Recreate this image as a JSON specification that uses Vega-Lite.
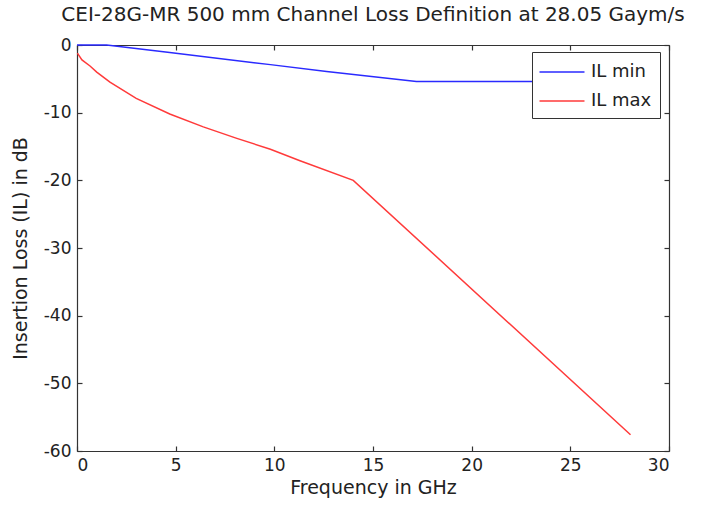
{
  "$schema": "https://vega.github.io/schema/vega-lite/v6.json",
  "width": 592,
  "height": 406,
  "autosize": {"type": "none"},
  "padding": {"left": 77, "top": 45, "right": 44, "bottom": 55},
  "background": "white",
  "config": {
    "font": "DejaVu Sans",
    "view": {"stroke": null},
    "axis": {
      "grid": false,
      "domainColor": "#333",
      "domainWidth": 1.2,
      "tickColor": "#333",
      "tickWidth": 1.2,
      "tickSize": -5,
      "labelFont": "DejaVu Sans",
      "labelFontSize": 17,
      "labelColor": "#222",
      "titleFont": "DejaVu Sans",
      "titleFontSize": 19,
      "titleFontWeight": "normal",
      "titleColor": "#222"
    },
    "legend": {
      "orient": "none",
      "legendX": 455,
      "legendY": 7,
      "fillColor": "white",
      "strokeColor": "#333",
      "padding": 8,
      "rowPadding": 8,
      "symbolType": "M-2,0H2",
      "symbolSize": 506,
      "symbolStrokeWidth": 1.5,
      "symbolOffset": 10,
      "labelFont": "DejaVu Sans",
      "labelFontSize": 18,
      "labelColor": "#222",
      "labelOffset": 17,
      "title": null
    }
  },
  "title": {
    "text": "CEI-28G-MR 500 mm Channel Loss Definition at 28.05 Gaym/s",
    "font": "DejaVu Sans",
    "fontSize": 20,
    "fontWeight": "normal",
    "color": "#222",
    "anchor": "middle",
    "offset": 11
  },
  "data": {
    "values": [
      {"f": 0, "il": 0, "series": "IL min"},
      {"f": 1.5, "il": 0, "series": "IL min"},
      {"f": 4.7, "il": -1.1, "series": "IL min"},
      {"f": 9.8, "il": -2.9, "series": "IL min"},
      {"f": 12.65, "il": -3.9, "series": "IL min"},
      {"f": 17.2, "il": -5.4, "series": "IL min"},
      {"f": 28.05, "il": -5.4, "series": "IL min"},
      {"f": 0.02, "il": -1.2, "series": "IL max"},
      {"f": 0.25, "il": -2.2, "series": "IL max"},
      {"f": 0.66, "il": -3.1, "series": "IL max"},
      {"f": 1.0, "il": -4.0, "series": "IL max"},
      {"f": 1.67, "il": -5.5, "series": "IL max"},
      {"f": 3.0, "il": -7.9, "series": "IL max"},
      {"f": 4.7, "il": -10.2, "series": "IL max"},
      {"f": 6.4, "il": -12.1, "series": "IL max"},
      {"f": 8.1, "il": -13.8, "series": "IL max"},
      {"f": 9.8, "il": -15.4, "series": "IL max"},
      {"f": 11.3, "il": -17.1, "series": "IL max"},
      {"f": 14.0, "il": -20.0, "series": "IL max"},
      {"f": 28.05, "il": -57.6, "series": "IL max"}
    ]
  },
  "layer": [
    {
      "mark": {"type": "line", "strokeWidth": 1.5},
      "encoding": {
        "x": {
          "field": "f", "type": "quantitative",
          "scale": {"domain": [0, 30], "nice": false},
          "axis": {"title": "Frequency in GHz", "values": [0, 5, 10, 15, 20, 25, 30], "labelPadding": 11, "titlePadding": 5, "labelExpr": "'' + datum.value"}
        },
        "y": {
          "field": "il", "type": "quantitative",
          "scale": {"domain": [-60, 0], "nice": false},
          "axis": {"title": "Insertion Loss (IL) in dB", "values": [0, -10, -20, -30, -40, -50, -60], "labelPadding": 11, "titlePadding": 13, "labelExpr": "'' + datum.value"}
        },
        "color": {
          "field": "series", "type": "nominal",
          "scale": {"domain": ["IL min", "IL max"], "range": ["#2a2aff", "#ff3a3a"]},
          "legend": {"title": null}
        },
        "detail": {"field": "series"}
      }
    },
    {
      "mark": {"type": "line", "strokeOpacity": 0},
      "encoding": {
        "x": {
          "field": "f", "type": "quantitative",
          "axis": {"orient": "top", "labels": false, "title": null, "values": [0, 5, 10, 15, 20, 25, 30]}
        },
        "y": {
          "field": "il", "type": "quantitative",
          "axis": {"orient": "right", "labels": false, "title": null, "values": [0, -10, -20, -30, -40, -50, -60]}
        },
        "detail": {"field": "series"}
      }
    }
  ],
  "resolve": {"axis": {"x": "independent", "y": "independent"}}
}
